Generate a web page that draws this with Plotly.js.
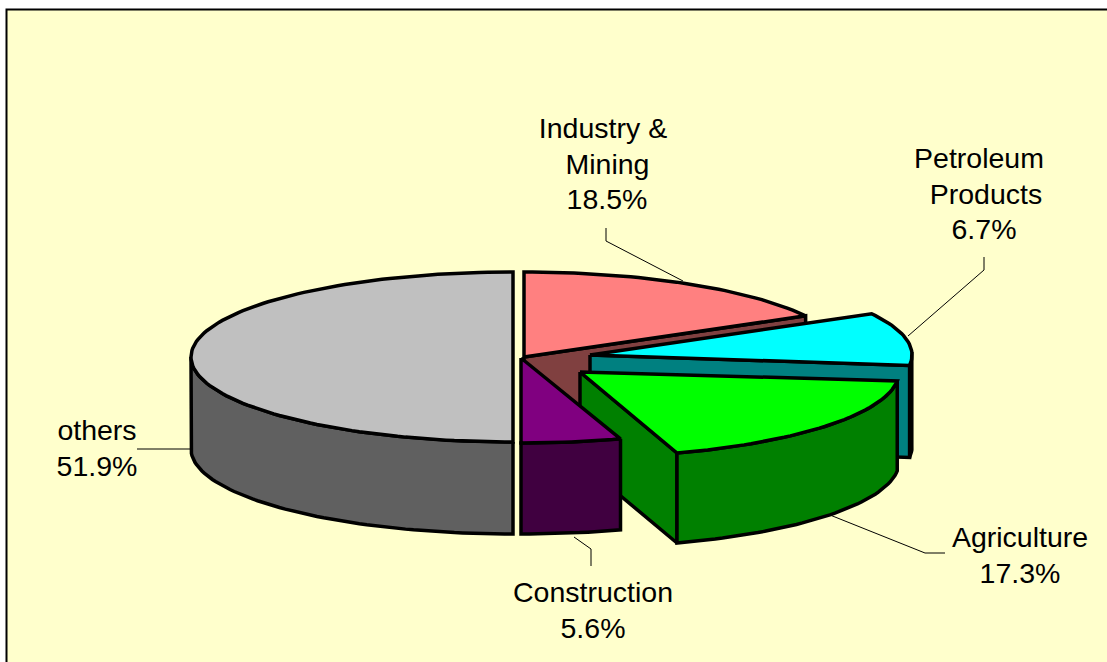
<!DOCTYPE html>
<html><head><meta charset="utf-8">
<script src="https://cdn.plot.ly/plotly-3.0.1.min.js"></script>
<style>html,body{margin:0;padding:0;background:#fff}#c{width:1107px;height:662px}</style></head>
<body><div id="c"></div>
<script>
// ---- data ----
const categories = ['Industry &<br>Mining', 'Petroleum<br>Products', 'Agriculture', 'Construction', 'others'];
const values = [18.5, 6.7, 17.3, 5.6, 51.9];
const topColors = ['#ff8080', '#00ffff', '#00ff00', '#800080', '#c0c0c0'];
const wallColors = ['#804040', '#008080', '#008000', '#400040', '#606060'];

// ---- 3-D view of the exploded pie (axis units are screen-like units) ----
const radiusX = [322, 322, 319, 322, 322], radiusY = 85;
const depth = [92, 92, 90, 91, 92];
const apexX = [524, 590, 580, 521, 513];
const apexY = [357, 355, 372, 358, 357];
// the perspective of the original skews the sector angles slightly: [start, end] shift in degrees
const viewShift = [[0, -5.6], [-5.6, 6.3], [5.3, 9.3], [9, 6.84], [6.84, 0]];
// one row per label: centre x of each line, and y of each line
const labelLineX = [[603, 607.5, 607], [979, 986, 984], [1020, 1020], [593, 593], [97, 97]];
const labelLineY = [[131, 167, 202], [161, 197, 232], [540, 576], [595, 631], [433, 469]];
const leaderX = [[606, 606, 683], [984, 984, 908], [945, 925, 830], [591, 591, 574], [137, 191]];
const leaderY = [[228, 241, 281], [257, 270, 336], [553, 553, 515], [566, 549, 537], [449, 449]];

const rad = d => d * Math.PI / 180;
const pt = (i, a, dz) => [apexX[i] + radiusX[i] * Math.sin(rad(a)), apexY[i] - radiusY * Math.cos(rad(a)) + (dz || 0)];
function arc(i, a0, a1, dz) {
  const out = [], n = Math.max(2, Math.ceil(Math.abs(a1 - a0) / 1.5));
  for (let k = 0; k <= n; k++) out.push(pt(i, a0 + (a1 - a0) * k / n, dz));
  return out;
}
function poly(points, fill) {
  const closed = points.concat([points[0]]);
  return {
    type: 'scatter', mode: 'lines', x: closed.map(p => p[0]), y: closed.map(p => p[1]),
    fill: 'toself', fillcolor: fill, hoverinfo: 'skip', showlegend: false,
    line: { color: '#000', width: 3.5, shape: 'linear' }
  };
}
// sector angles from the values
let cum = 0;
const angles = values.map((v, i) => {
  const s = cum * 3.6 + viewShift[i][0];
  cum += v;
  return [s, cum * 3.6 + viewShift[i][1]];
});
const apex = i => [apexX[i], apexY[i]];
const cut = (i, a) => { const p = pt(i, a); return [apex(i), p, [p[0], p[1] + depth[i]], [apexX[i], apexY[i] + depth[i]]]; };
const wall = (i, a0, a1) => arc(i, a0, a1).concat(arc(i, a1, a0, depth[i]));
const face = i => [apex(i)].concat(arc(i, angles[i][0], angles[i][1]));

const traces = [];
// painter's order, back to front
traces.push(poly(cut(0, angles[0][1]), wallColors[0]), poly(face(0), topColors[0]));
traces.push(poly(wall(1, 88, angles[1][1]), '#000'), poly(cut(1, angles[1][1]), wallColors[1]), poly(face(1), topColors[1]));
traces.push(poly(wall(4, angles[4][0], 270), wallColors[4]), poly(face(4), topColors[4]));
traces.push(poly(cut(2, angles[2][1]), wallColors[2]), poly(wall(2, angles[2][0], angles[2][1]), wallColors[2]), poly(face(2), topColors[2]));
traces.push(poly(wall(3, angles[3][0], angles[3][1]), wallColors[3]), poly(face(3), topColors[3]));
// leaders
leaderX.forEach((xs, i) => traces.push({
  type: 'scatter', mode: 'lines', x: xs, y: leaderY[i], hoverinfo: 'skip', showlegend: false,
  line: { color: '#000', width: 1 }
}));
// labels, one text per line
const textX = [], textY = [], textS = [];
categories.forEach((c, i) => {
  c.split('<br>').concat([values[i].toFixed(1) + '%']).forEach((line, j) => {
    textX.push(labelLineX[i][j]); textY.push(labelLineY[i][j]); textS.push(line);
  });
});
traces.push({
  type: 'scatter', mode: 'text', x: textX, y: textY, text: textS, hoverinfo: 'skip', showlegend: false,
  textposition: 'middle center', cliponaxis: false,
  textfont: { family: 'Liberation Sans, Arial, sans-serif', size: 28.5, color: '#000' }
});

const layout = {
  width: 1107, height: 662, margin: { l: 0, r: 0, t: 0, b: 0 },
  paper_bgcolor: '#ffffff', plot_bgcolor: '#ffffff', showlegend: false,
  xaxis: { range: [0, 1107], visible: false, fixedrange: true },
  yaxis: { range: [662, 0], visible: false, fixedrange: true },
  shapes: [{ type: 'rect', xref: 'x', yref: 'y', x0: 6.5, y0: 9.5, x1: 1130, y1: 700, fillcolor: '#ffffcc', line: { color: '#000', width: 2 }, layer: 'below' }]
};
Plotly.newPlot('c', traces, layout, { staticPlot: true, displayModeBar: false });
</script></body></html>
